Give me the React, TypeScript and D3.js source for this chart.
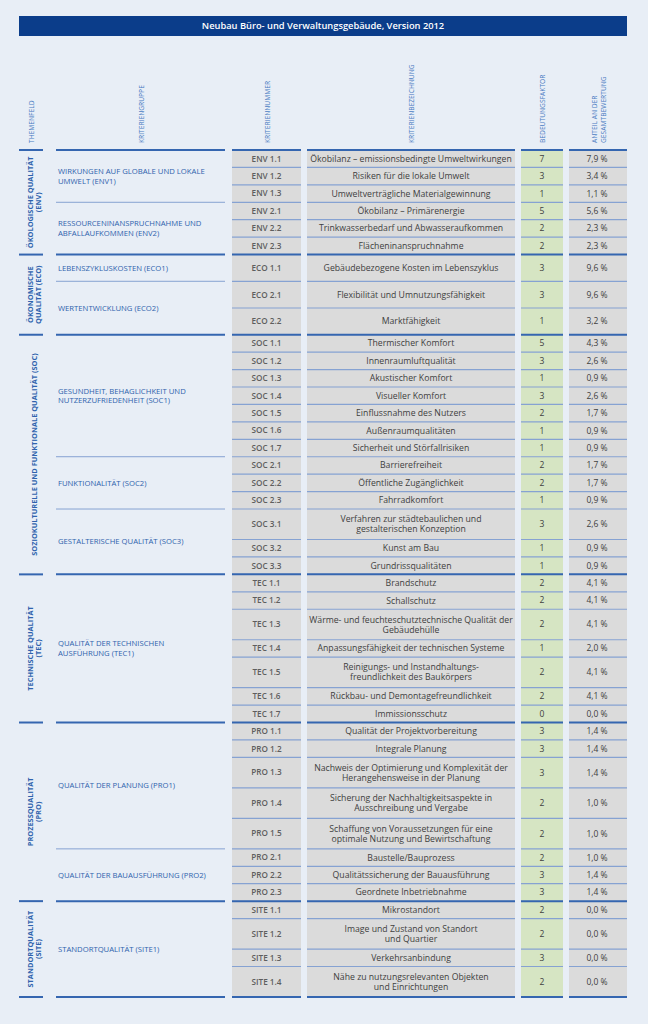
import React from 'react'
import * as d3 from 'd3'

const width = 648
const height = 1024

const title = 'Neubau Büro- und Verwaltungsgebäude, Version 2012'

const columnHeaders = [
  ['THEMENFELD'],
  ['KRITERIENGRUPPE'],
  ['KRITERIENNUMMER'],
  ['KRITERIENBEZEICHNUNG'],
  ['BEDEUTUNGSFAKTOR'],
  ['ANTEIL AN DER', 'GESAMTBEWERTUNG'],
]

const themeCodes = ['ENV', 'ECO', 'SOC', 'TEC', 'PRO', 'SITE']
const themeLabels = [
  ['ÖKOLOGISCHE QUALITÄT', '(ENV)'],
  ['ÖKONOMISCHE', 'QUALITÄT (ECO)'],
  ['SOZIOKULTURELLE UND FUNKTIONALE QUALITÄT (SOC)'],
  ['TECHNISCHE QUALITÄT', '(TEC)'],
  ['PROZESSQUALITÄT', '(PRO)'],
  ['STANDORTQUALITÄT', '(SITE)'],
]

const groupCodes = ['ENV1', 'ENV2', 'ECO1', 'ECO2', 'SOC1', 'SOC2', 'SOC3', 'TEC1', 'PRO1', 'PRO2', 'SITE1']
const groupLabels = [
  ['WIRKUNGEN AUF GLOBALE UND LOKALE', 'UMWELT (ENV1)'],
  ['RESSOURCENINANSPRUCHNAHME UND', 'ABFALLAUFKOMMEN (ENV2)'],
  ['LEBENSZYKLUSKOSTEN (ECO1)'],
  ['WERTENTWICKLUNG (ECO2)'],
  ['GESUNDHEIT, BEHAGLICHKEIT UND', 'NUTZERZUFRIEDENHEIT (SOC1)'],
  ['FUNKTIONALITÄT (SOC2)'],
  ['GESTALTERISCHE QUALITÄT (SOC3)'],
  ['QUALITÄT DER TECHNISCHEN', 'AUSFÜHRUNG (TEC1)'],
  ['QUALITÄT DER PLANUNG (PRO1)'],
  ['QUALITÄT DER BAUAUSFÜHRUNG (PRO2)'],
  ['STANDORTQUALITÄT (SITE1)'],
]

const criteriaIds = [
  'ENV 1.1', 'ENV 1.2', 'ENV 1.3', 'ENV 2.1', 'ENV 2.2', 'ENV 2.3',
  'ECO 1.1', 'ECO 2.1', 'ECO 2.2',
  'SOC 1.1', 'SOC 1.2', 'SOC 1.3', 'SOC 1.4', 'SOC 1.5', 'SOC 1.6', 'SOC 1.7',
  'SOC 2.1', 'SOC 2.2', 'SOC 2.3', 'SOC 3.1', 'SOC 3.2', 'SOC 3.3',
  'TEC 1.1', 'TEC 1.2', 'TEC 1.3', 'TEC 1.4', 'TEC 1.5', 'TEC 1.6', 'TEC 1.7',
  'PRO 1.1', 'PRO 1.2', 'PRO 1.3', 'PRO 1.4', 'PRO 1.5', 'PRO 2.1', 'PRO 2.2', 'PRO 2.3',
  'SITE 1.1', 'SITE 1.2', 'SITE 1.3', 'SITE 1.4',
]

const criteriaNames = [
  'Ökobilanz – emissionsbedingte Umweltwirkungen',
  'Risiken für die lokale Umwelt',
  'Umweltverträgliche Materialgewinnung',
  'Ökobilanz – Primärenergie',
  'Trinkwasserbedarf und Abwasseraufkommen',
  'Flächeninanspruchnahme',
  'Gebäudebezogene Kosten im Lebenszyklus',
  'Flexibilität und Umnutzungsfähigkeit',
  'Marktfähigkeit',
  'Thermischer Komfort',
  'Innenraumluftqualität',
  'Akustischer Komfort',
  'Visueller Komfort',
  'Einflussnahme des Nutzers',
  'Außenraumqualitäten',
  'Sicherheit und Störfallrisiken',
  'Barrierefreiheit',
  'Öffentliche Zugänglichkeit',
  'Fahrradkomfort',
  'Verfahren zur städtebaulichen und\ngestalterischen Konzeption',
  'Kunst am Bau',
  'Grundrissqualitäten',
  'Brandschutz',
  'Schallschutz',
  'Wärme- und feuchteschutztechnische Qualität der\nGebäudehülle',
  'Anpassungsfähigkeit der technischen Systeme',
  'Reinigungs- und Instandhaltungs-\nfreundlichkeit des Baukörpers',
  'Rückbau- und Demontagefreundlichkeit',
  'Immissionsschutz',
  'Qualität der Projektvorbereitung',
  'Integrale Planung',
  'Nachweis der Optimierung und Komplexität der\nHerangehensweise in der Planung',
  'Sicherung der Nachhaltigkeitsaspekte in\nAusschreibung und Vergabe',
  'Schaffung von Voraussetzungen für eine\noptimale Nutzung und Bewirtschaftung',
  'Baustelle/Bauprozess',
  'Qualitätssicherung der Bauausführung',
  'Geordnete Inbetriebnahme',
  'Mikrostandort',
  'Image und Zustand von Standort\nund Quartier',
  'Verkehrsanbindung',
  'Nähe zu nutzungsrelevanten Objekten\nund Einrichtungen',
]

const weights = [
  7, 3, 1, 5, 2, 2,
  3, 3, 1,
  5, 3, 1, 3, 2, 1, 1,
  2, 2, 1, 3, 1, 1,
  2, 2, 2, 1, 2, 2, 0,
  3, 3, 3, 2, 2, 2, 3, 3,
  2, 2, 3, 2,
]

const shares = [
  '7,9 %', '3,4 %', '1,1 %', '5,6 %', '2,3 %', '2,3 %',
  '9,6 %', '9,6 %', '3,2 %',
  '4,3 %', '2,6 %', '0,9 %', '2,6 %', '1,7 %', '0,9 %', '0,9 %',
  '1,7 %', '1,7 %', '0,9 %', '2,6 %', '0,9 %', '0,9 %',
  '4,1 %', '4,1 %', '4,1 %', '2,0 %', '4,1 %', '4,1 %', '0,0 %',
  '1,4 %', '1,4 %', '1,4 %', '1,0 %', '1,0 %', '1,0 %', '1,4 %', '1,4 %',
  '0,0 %', '0,0 %', '0,0 %', '0,0 %',
]

// layout
const font = '"Open Sans", "Noto Sans", sans-serif'
const bg = '#e8eef6'
const blue = '#2f63ad'
const lineBlue = '#3566b0'
const thinBlue = '#86a2d2'
const grayCell = '#dbdbdb'
const greenCell = '#d6e5c3'
const textGray = '#404040'

const cols = {
  theme: [19, 43],
  group: [56, 225],
  id: [232, 301],
  name: [307, 515],
  weight: [521, 563],
  share: [569, 627],
}
const headerCx = [31, 140.5, 266.5, 411, 542, 598]
const tableTop = 150
const tableBottom = 997
const minSectionUnits: Record<string, number> = { ECO: 4.6 }

const rows = criteriaIds.map((id, i) => {
  const [theme, num] = id.split(' ')
  const group = theme + num.split('.')[0]
  const lines = criteriaNames[i].split('\n')
  return { id, theme, group, lines, weight: weights[i], share: shares[i], units: lines.length > 1 ? 1.75 : 1, start: 0 }
})

themeCodes.forEach(code => {
  const rs = rows.filter(r => r.theme === code)
  const sum = d3.sum(rs, r => r.units)
  const min = minSectionUnits[code]
  if (min && sum < min) rs.forEach(r => { r.units = r.units * min / sum })
})
const ends = d3.cumsum(rows, r => r.units)
rows.forEach((r, i) => { r.start = ends[i] - r.units })

const y = d3.scaleLinear().domain([0, ends[ends.length - 1]]).range([tableTop, tableBottom])

const span = (key: 'theme' | 'group', code: string) => {
  const rs = rows.filter(r => r[key] === code)
  return [y(rs[0].start), y(rs[rs.length - 1].start + rs[rs.length - 1].units)]
}

const cellCols = [
  { c: cols.id, fill: grayCell },
  { c: cols.name, fill: grayCell },
  { c: cols.weight, fill: greenCell },
  { c: cols.share, fill: grayCell },
]

const App = () => {
  return (
    <div style={{ position: 'absolute', left: 0, top: 0 }}>
      <svg width={width} height={height} style={{ display: 'block', fontFamily: font }}>
        <rect width={width} height={height} fill={bg} />

        <rect x={19} y={16} width={608} height={20} fill="#0b3d8a" />
        <text x={323} y={26} dy="0.35em" textAnchor="middle" fill="#fff" fontSize={9.3} fontWeight={600}>{title}</text>

        {columnHeaders.map((lines, i) => (
          <text key={i} transform={`translate(${headerCx[i] - (lines.length - 1) * 4.5},143) rotate(-90)`}
            fill="#4a7cc2" fontSize={6.7} dominantBaseline="central">
            {lines.map((l, j) => <tspan key={j} x={0} y={j * 9}>{l}</tspan>)}
          </text>
        ))}

        {/* cells */}
        {rows.map(r => {
          const y0 = y(r.start), y1 = y(r.start + r.units), cy = (y0 + y1) / 2
          return (
            <g key={r.id}>
              {cellCols.map((cc, k) => (
                <rect key={k} x={cc.c[0]} y={y0} width={cc.c[1] - cc.c[0]} height={y1 - y0} fill={cc.fill} />
              ))}
              <text x={(cols.id[0] + cols.id[1]) / 2} y={cy} dy="0.35em" textAnchor="middle" fontSize={8.2} fontWeight={600} fill="#5e5e5e">{r.id}</text>
              <text x={(cols.name[0] + cols.name[1]) / 2} y={cy} textAnchor="middle" fontSize={8.7} fill={textGray}>
                {r.lines.map((l, j) => (
                  <tspan key={j} x={(cols.name[0] + cols.name[1]) / 2} y={cy + (j - (r.lines.length - 1) / 2) * 10} dy="0.35em">{l}</tspan>
                ))}
              </text>
              <text x={(cols.weight[0] + cols.weight[1]) / 2} y={cy} dy="0.35em" textAnchor="middle" fontSize={8.5} fill={textGray}>{r.weight}</text>
              <text x={(cols.share[0] + cols.share[1]) / 2 - 1} y={cy} dy="0.35em" textAnchor="middle" fontSize={8.5} fill={textGray}>{r.share}</text>
            </g>
          )
        })}

        {/* row separators */}
        {rows.map((r, i) => i > 0 && rows[i - 1].theme === r.theme ? (
          <g key={'s' + r.id}>
            {cellCols.map((cc, k) => (
              <line key={k} x1={cc.c[0]} x2={cc.c[1]} y1={y(r.start)} y2={y(r.start)} stroke={thinBlue} strokeWidth={1.2} />
            ))}
          </g>
        ) : null)}

        {/* group separators and labels */}
        {groupCodes.map((g, i) => {
          const [g0, g1] = span('group', g)
          const first = rows.find(r => r.group === g)!
          const idx = rows.indexOf(first)
          const inner = idx > 0 && rows[idx - 1].theme === first.theme
          const lines = groupLabels[i]
          return (
            <g key={g}>
              {inner && <line x1={cols.group[0]} x2={cols.group[1]} y1={g0} y2={g0} stroke={thinBlue} strokeWidth={1} />}
              <text fontSize={7.7} fill={blue}>
                {lines.map((l, j) => (
                  <tspan key={j} x={cols.group[0] + 2} y={(g0 + g1) / 2 + (j - (lines.length - 1) / 2) * 9.5} dy="0.35em">{l}</tspan>
                ))}
              </text>
            </g>
          )
        })}

        {/* theme labels */}
        {themeCodes.map((t, i) => {
          const [t0, t1] = span('theme', t)
          const lines = themeLabels[i]
          return (
            <text key={t} transform={`translate(${34 - (lines.length - 1) * 4},${(t0 + t1) / 2}) rotate(-90)`}
              textAnchor="middle" fontSize={7.4} fontWeight={700} fill={blue} dominantBaseline="central">
              {lines.map((l, j) => <tspan key={j} x={0} y={j * 8.2}>{l}</tspan>)}
            </text>
          )
        })}

        {/* section lines */}
        {themeCodes.map(t => span('theme', t)).flatMap((s, i, arr) => (i === arr.length - 1 ? [s[0], s[1]] : [s[0]])).map((yy, i) => (
          <g key={'sec' + i}>
            {[cols.theme, cols.group, cols.id, cols.name, cols.weight, cols.share].map((c, k) => (
              <line key={k} x1={c[0]} x2={c[1]} y1={yy} y2={yy} stroke={lineBlue} strokeWidth={2} />
            ))}
          </g>
        ))}
      </svg>
    </div>
  )
}

export default App
